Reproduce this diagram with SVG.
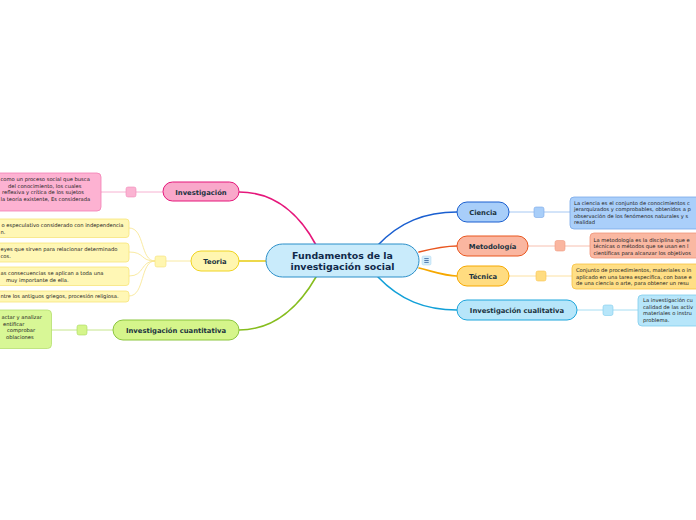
<svg xmlns="http://www.w3.org/2000/svg" width="696" height="520" viewBox="0 0 696 520">
<style>
.lbl{font-family:"DejaVu Sans",Verdana,sans-serif;font-weight:bold;font-size:6.8px;fill:#1b3340;text-anchor:middle}
.ctr{font-family:"DejaVu Sans",Verdana,sans-serif;font-weight:bold;font-size:9.4px;fill:#10294a;text-anchor:middle}
.sm{font-family:"DejaVu Sans",Verdana,sans-serif;font-size:5.2px;fill:#222}
.con{fill:none;stroke-linecap:round}
</style>
<rect width="696" height="520" fill="#ffffff"/>
<g id="connectors">
<path class="con" d="M316,245 C300,215 275,192 239,192" stroke="#e5177b" stroke-width="1.6"/>
<path class="con" d="M266,261 L239,261" stroke="#e8cc10" stroke-width="1.6"/>
<path class="con" d="M316,277 C300,305 275,330 239,330" stroke="#86bd1e" stroke-width="1.6"/>
<path class="con" d="M378,245 C400,222 425,212 457,212" stroke="#1a5fd0" stroke-width="1.6"/>
<path class="con" d="M419,252 C435,248 445,246 457,246" stroke="#e9561f" stroke-width="1.6"/>
<path class="con" d="M419,268 C435,272 445,276 457,276" stroke="#f6a800" stroke-width="1.6"/>
<path class="con" d="M378,277 C400,300 425,310 457,310" stroke="#12a0d8" stroke-width="1.6"/>
<g stroke-width="0.8" fill="none">
<path d="M163,192 H136 M126,192 H101" stroke="#f5a0c6"/>
<path d="M191,261 H166 M155,261 C140,261 145,228 129,228 M155,261 C140,261 145,252 129,252 M155,261 C140,261 145,276 129,276 M155,261 C140,261 145,296 129,296" stroke="#f7e48a"/>
<path d="M113,330 H87 M77,330 H51" stroke="#b8e070"/>
<path d="M509,212 H534 M544,212 H570" stroke="#8fbaf0"/>
<path d="M528,246 H555 M565,246 H590" stroke="#f5b09c"/>
<path d="M509,276 H536 M546,276 H572" stroke="#fbd98a"/>
<path d="M577,310 H603 M613,310 H638" stroke="#8fd6f0"/>
</g>
</g>
<g id="center">
<rect x="266" y="244" width="153" height="33" rx="16.5" fill="#c9ebfb" stroke="#2b8fc9" stroke-width="1"/>
<text class="ctr" x="342.5" y="258.5">Fundamentos de la</text>
<text class="ctr" x="342.5" y="270">investigación social</text>
<rect x="422" y="256" width="9" height="9" rx="1.5" fill="#d6eefb" stroke="#a8d4ee" stroke-width="0.5"/>
<path d="M424.3,258.6 H428.7 M424.3,260.5 H428.7 M424.3,262.4 H428.7" stroke="#2a5a9a" stroke-width="0.8"/>
</g>
<g id="investigacion">
<rect x="163" y="182" width="76" height="19" rx="9.5" fill="#f9a8ca" stroke="#e5177b" stroke-width="1"/>
<text class="lbl" x="201" y="194.5">Investigación</text>
<rect x="126" y="187" width="10" height="10" rx="2" fill="#fbb3d2" stroke="#f08cba" stroke-width="0.6"/>
<rect x="-6" y="173" width="107" height="38" rx="4" fill="#fdb2d2" stroke="#f27fb4" stroke-width="0.8"/>
<text class="sm" x="0.5" y="181">como un proceso social que busca</text>
<text class="sm" x="8" y="187.7">del conocimiento, los cuales</text>
<text class="sm" x="2" y="194.4">reflexiva y crítica de los sujetos</text>
<text class="sm" x="0.5" y="201.1">la teoría existente, Es considerada</text>
</g>
<g id="teoria">
<rect x="191" y="251" width="48" height="20" rx="10" fill="#fff6b0" stroke="#f0d420" stroke-width="1"/>
<text class="lbl" x="215" y="263.5">Teoria</text>
<rect x="155" y="256" width="11" height="11" rx="2" fill="#fff6b0" stroke="#f5e07a" stroke-width="0.6"/>
<rect x="-6" y="219" width="135" height="18.5" rx="3" fill="#fff7b5" stroke="#f7e47a" stroke-width="0.8"/>
<text class="sm" x="1.5" y="227">o especulativo considerado con independencia</text>
<text class="sm" x="0.5" y="233.8">n.</text>
<rect x="-6" y="243" width="135" height="19" rx="3" fill="#fff7b5" stroke="#f7e47a" stroke-width="0.8"/>
<text class="sm" x="0.5" y="251">eyes que sirven para relacionar determinado</text>
<text class="sm" x="0.5" y="258">cos.</text>
<rect x="-6" y="267" width="135" height="18.5" rx="3" fill="#fff7b5" stroke="#f7e47a" stroke-width="0.8"/>
<text class="sm" x="0.5" y="274.5">as consecuencias se aplican a toda una</text>
<text class="sm" x="6" y="281.8">muy importante de ella.</text>
<rect x="-6" y="291" width="135" height="11" rx="3" fill="#fff7b5" stroke="#f7e47a" stroke-width="0.8"/>
<text class="sm" x="0.5" y="298.3">ntre los antiguos griegos, procesión religiosa.</text>
</g>
<g id="cuantitativa">
<rect x="113" y="320" width="126" height="20" rx="10" fill="#d5f58b" stroke="#8cc63f" stroke-width="1"/>
<text class="lbl" x="176" y="332.5">Investigación cuantitativa</text>
<rect x="77" y="325" width="10" height="10" rx="2" fill="#d5f58b" stroke="#a8d860" stroke-width="0.6"/>
<rect x="-6" y="310" width="57.5" height="38.5" rx="4" fill="#d8f796" stroke="#b5e070" stroke-width="0.8"/>
<text class="sm" x="1.5" y="319">actar y analizar</text>
<text class="sm" x="3" y="325.5">entificar</text>
<text class="sm" x="7" y="332">comprobar</text>
<text class="sm" x="6" y="338.5">oblaciones</text>
</g>
<g id="ciencia">
<rect x="457" y="202" width="52" height="20" rx="10" fill="#a8cef9" stroke="#1a5fd0" stroke-width="1"/>
<text class="lbl" x="483" y="214.5">Ciencia</text>
<rect x="534" y="207" width="10" height="10.5" rx="2" fill="#a8cef9" stroke="#7aa8e8" stroke-width="0.6"/>
<rect x="570" y="197" width="132" height="32" rx="4" fill="#aacffa" stroke="#7aa8e8" stroke-width="0.8"/>
<text class="sm" x="574" y="205">La ciencia es el conjunto de conocimientos c</text>
<text class="sm" x="574" y="211.3">jerarquizados y comprobables, obtenidos a p</text>
<text class="sm" x="574" y="217.6">observación de los fenómenos naturales y s</text>
<text class="sm" x="574" y="224">realidad</text>
</g>
<g id="metodologia">
<rect x="457" y="236" width="71" height="20" rx="10" fill="#fab6a0" stroke="#e9561f" stroke-width="1"/>
<text class="lbl" x="492.5" y="248.5">Metodología</text>
<rect x="555" y="240.5" width="10" height="10.5" rx="2" fill="#fab6a0" stroke="#f09a80" stroke-width="0.6"/>
<rect x="590" y="233" width="112" height="25" rx="4" fill="#fab8a2" stroke="#ef9478" stroke-width="0.8"/>
<text class="sm" x="593.5" y="241.5">La metodología es la disciplina que e</text>
<text class="sm" x="593.5" y="248">técnicas o métodos que se usan en l</text>
<text class="sm" x="593.5" y="254.5">científicas para alcanzar los objetivos</text>
</g>
<g id="tecnica">
<rect x="457" y="266" width="52" height="20" rx="10" fill="#ffdc80" stroke="#f6a800" stroke-width="1"/>
<text class="lbl" x="483" y="278.5">Técnica</text>
<rect x="536" y="271" width="10" height="10" rx="2" fill="#ffdc80" stroke="#f8c450" stroke-width="0.6"/>
<rect x="572" y="264" width="130" height="25" rx="4" fill="#ffdf86" stroke="#f7c040" stroke-width="0.8"/>
<text class="sm" x="576" y="271.8">Conjunto de procedimientos, materiales o in</text>
<text class="sm" x="576" y="278.5">aplicado en una tarea específica, con base e</text>
<text class="sm" x="576" y="285.3">de una ciencia o arte, para obtener un resu</text>
</g>
<g id="cualitativa">
<rect x="457" y="300" width="120" height="20" rx="10" fill="#b7e6fa" stroke="#1fa6dc" stroke-width="1"/>
<text class="lbl" x="517" y="312.5">Investigación cualitativa</text>
<rect x="603" y="305" width="10" height="10.5" rx="2" fill="#b7e6fa" stroke="#80cdec" stroke-width="0.6"/>
<rect x="638" y="295" width="64" height="31" rx="4" fill="#b7e6fa" stroke="#80cdec" stroke-width="0.8"/>
<text class="sm" x="643" y="302">La investigación cu</text>
<text class="sm" x="643" y="308.5">calidad de las activ</text>
<text class="sm" x="643" y="315">materiales o instru</text>
<text class="sm" x="643" y="321.5">problema.</text>
</g>
</svg>
